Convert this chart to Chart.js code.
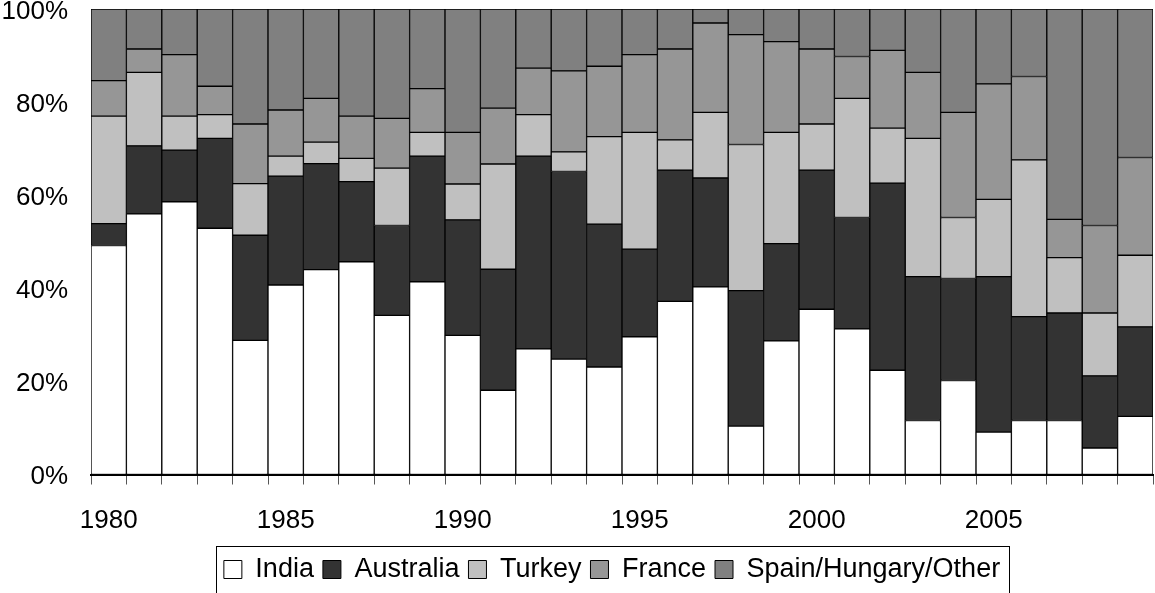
<!DOCTYPE html>
<html>
<head>
<meta charset="utf-8">
<script src="https://cdn.jsdelivr.net/npm/chart.js@4/dist/chart.umd.min.js"></script>
<style>
  html, body { margin: 0; padding: 0; background: #ffffff; }
  #wrap { width: 1155px; height: 593px; }
</style>
</head>
<body>
<div id="wrap"><canvas id="c" width="1155" height="593"></canvas></div>
<script>
const years = ['1980','1981','1982','1983','1984','1985','1986','1987','1988','1989',
               '1990','1991','1992','1993','1994','1995','1996','1997','1998','1999',
               '2000','2001','2002','2003','2004','2005','2006','2007','2008','2009'];

const india     = [49.2,56.0,58.6,52.9,28.8,40.7,44.0,45.7,34.2,41.4,29.9,18.1,27.0,24.8,23.1,29.6,37.2,40.3,10.4,28.7,35.5,31.3,22.4,11.6,20.2, 9.1,11.6,11.6, 5.7,12.5];
const australia = [ 4.7,14.6,11.1,19.3,22.6,23.4,22.8,17.2,19.3,27.0,24.8,26.0,41.4,40.3,30.7,18.8,28.2,23.4,29.1,20.9,29.9,23.9,40.2,30.9,21.9,33.4,22.3,23.1,15.5,19.2];
const turkey    = [23.1,15.8, 7.3, 5.1,11.1, 4.3, 4.6, 5.0,12.3, 5.1, 7.7,22.6, 8.9, 4.2,18.8,25.1, 6.5,14.1,31.4,23.9, 9.9,25.6,11.8,29.7,13.1,16.6,33.7,11.9,13.5,15.4];
const france    = [ 7.6, 5.0,13.2, 6.1,12.8, 9.9, 9.4, 9.1,10.7, 9.4,11.1,12.0,10.0,17.4,15.1,16.7,19.5,19.2,23.6,19.5,16.1, 9.0,16.7,14.2,22.6,24.8,17.9, 8.2,18.8,21.0];
const other     = [15.4, 8.6, 9.8,16.6,24.7,21.7,19.2,23.0,23.5,17.1,26.5,21.3,12.7,13.3,12.3, 9.8, 8.6, 3.0, 5.5, 7.0, 8.6,10.2, 8.9,13.6,22.2,16.1,14.5,45.2,46.5,31.9];

const seriesNames = ['India','Australia','Turkey','France','Spain/Hungary/Other'];
const seriesColors = ['#ffffff','#333333','#c0c0c0','#969696','#808080'];

const FONT = "'Liberation Sans', Arial, sans-serif";

// shift the legend a little left of the plot centre and draw its frame
const legendFrame = {
  id: 'legendFrame',
  afterLayout(chart) {
    const lg = chart.legend;
    if (!lg) return;
    const ca = chart.chartArea;
    const target = (ca.left + ca.right) / 2 - 10;
    const d = target - (lg.left + lg.right) / 2;
    lg.left += d;
    lg.right += d;
  },
  afterDraw(chart) {
    const lg = chart.legend;
    if (!lg || !lg.legendHitBoxes || !lg.legendHitBoxes.length) return;
    const hb = lg.legendHitBoxes;
    const last = hb[hb.length - 1];
    const left = Math.round(hb[0].left - 8) + 0.5;
    const right = Math.round(last.left + last.width + 9) + 0.5;
    const top = Math.round(lg.top - 1) + 0.5;
    const ctx = chart.ctx;
    ctx.save();
    ctx.strokeStyle = '#000000';
    ctx.lineWidth = 1;
    ctx.strokeRect(left, top, right - left, chart.height + 10 - top);
    ctx.restore();
  }
};

const data = {
  labels: years,
  datasets: [india, australia, turkey, france, other].map((vals, i) => ({
    label: seriesNames[i],
    data: vals,
    backgroundColor: seriesColors[i],
    borderColor: '#000000',
    borderWidth: 1,
    borderSkipped: false,
    categoryPercentage: 1.0,
    barPercentage: 1.0
  }))
};

new Chart(document.getElementById('c'), {
  type: 'bar',
  data,
  options: {
    responsive: false,
    animation: false,
    devicePixelRatio: 1,
    layout: { padding: { left: 1.5, right: 2, top: 9, bottom: 0 } },
    plugins: {
      tooltip: { enabled: false },
      title: { display: false },
      legend: {
        position: 'bottom',
        labels: {
          boxWidth: 18,
          boxHeight: 18,
          padding: 9,
          color: '#000000',
          font: { family: FONT, size: 27 }
        }
      }
    },
    scales: {
      x: {
        stacked: true,
        offset: true,
        grid: {
          display: true,
          offset: true,
          drawOnChartArea: false,
          drawTicks: true,
          tickLength: 10,
          color: '#555555',
          lineWidth: 1
        },
        border: { display: true, color: '#000000', width: 2, z: 1 },
        ticks: {
          autoSkip: false,
          maxRotation: 0,
          minRotation: 0,
          padding: 21,
          color: '#000000',
          font: { family: FONT, size: 26 },
          callback: function (value) {
            const l = this.getLabelForValue(value);
            return (parseInt(l, 10) % 5 === 0) ? l : '';
          }
        },
        afterFit(scale) {
          scale.height = 72.5;
          scale.paddingLeft = 0;
          scale.paddingRight = 0;
        }
      },
      y: {
        stacked: true,
        min: 0,
        max: 100,
        grid: { display: false, drawTicks: false },
        border: { display: false },
        ticks: {
          stepSize: 20,
          padding: 23,
          labelOffset: 2.5,
          color: '#000000',
          font: { family: FONT, size: 26 },
          callback: v => v + '%'
        },
        afterFit(scale) {
          scale.width = 89.5;
          scale.paddingTop = 0;
          scale.paddingBottom = 0;
        }
      }
    }
  },
  plugins: [legendFrame]
});
</script>
</body>
</html>
